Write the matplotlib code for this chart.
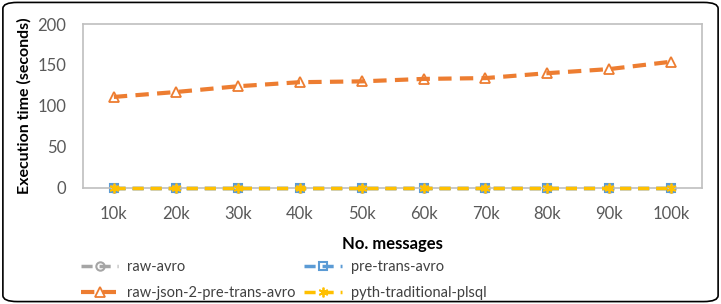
import matplotlib.pyplot as plt
import numpy as np
from matplotlib.patches import FancyBboxPatch

plt.rcParams['font.family'] = ['Lato', 'DejaVu Sans']

messages = ["10k", "20k", "30k", "40k", "50k", "60k", "70k", "80k", "90k", "100k"]
raw_avro = [0.3, 0.3, 0.3, 0.3, 0.3, 0.3, 0.3, 0.3, 0.3, 0.3]
pre_trans_avro = [0.2, 0.2, 0.2, 0.2, 0.2, 0.2, 0.2, 0.2, 0.2, 0.2]
raw_json = [111, 117, 124, 129, 130, 133, 134, 140, 145, 154]
pyth_plsql = [0.1, 0.1, 0.1, 0.1, 0.1, 0.1, 0.1, 0.1, 0.1, 0.1]

fig = plt.figure(figsize=(7.21, 3.04), dpi=100)
ax = fig.add_axes([0.115, 0.382, 0.859, 0.539])

x = np.arange(len(messages))
dash = (0, (3.2, 2.0))
h1, = ax.plot(x, raw_avro, color='#a5a5a5', lw=2.5, ls=dash, marker='o', ms=6,
              mfc='none', mec='#a5a5a5', mew=1.5, label='raw-avro', clip_on=False)
h2, = ax.plot(x, pre_trans_avro, color='#5b9bd5', lw=2.5, ls=dash, marker='s', ms=6,
              mfc='none', mec='#5b9bd5', mew=1.5, label='pre-trans-avro', clip_on=False)
h3, = ax.plot(x, raw_json, color='#ed7d31', lw=3, ls=dash, marker='^', ms=7,
              mfc='none', mec='#ed7d31', mew=1.3, label='raw-json-2-pre-trans-avro')
h4, = ax.plot(x, pyth_plsql, color='#ffc000', lw=2.5, ls=dash, marker=(6, 2, 0), ms=7,
              mec='#ffc000', mew=1.3, label='pyth-traditional-plsql', clip_on=False,
              zorder=5)

ax.set_xlim(-0.5, len(messages) - 0.5)
ax.set_ylim(0, 200)
ax.set_yticks([0, 50, 100, 150, 200])
ax.set_xticks(x)
ax.set_xticklabels(messages)
ax.tick_params(length=0, labelsize=12, labelcolor='#595959', pad=13)
ax.tick_params(axis='y', pad=12)
for s in ax.spines.values():
    s.set_color('#bfbfbf')
    s.set_linewidth(1.2)

ax.set_xlabel('No. messages', fontsize=12, fontweight='bold', labelpad=10)
ax.set_ylabel('Execution time (seconds)', fontsize=11.5, fontweight='bold', labelpad=4)

# legend is row-major in the reference: reorder for matplotlib's column fill
ax.legend([h1, h3, h2, h4], [h.get_label() for h in (h1, h3, h2, h4)],
          loc='upper left', bbox_to_anchor=(-0.025, -0.36), ncol=2, frameon=False,
          fontsize=10.5, labelcolor='#404040', handlelength=2.6, columnspacing=0.6,
          labelspacing=0.85, handletextpad=0.6)

fig.patches.append(FancyBboxPatch((0.004, 0.008), 0.992, 0.984,
                                  boxstyle='round,pad=0,rounding_size=0.02',
                                  transform=fig.transFigure, fill=False,
                                  ec='black', lw=1.2))

fig.savefig('out.png', dpi=100)
